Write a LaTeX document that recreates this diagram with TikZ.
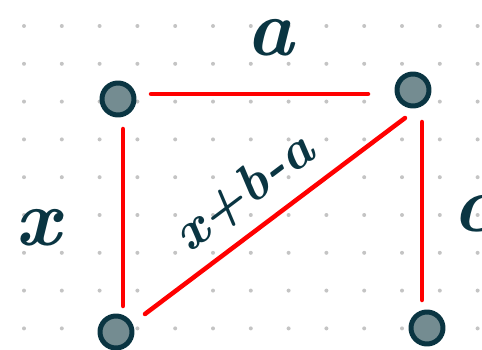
\documentclass[tikz,border=0pt]{standalone}
\definecolor{ink}{HTML}{0A3542}
\definecolor{pin}{HTML}{748C91}
\definecolor{dotgray}{HTML}{C4C4C4}
\tikzset{
  vertex/.style={circle, draw=ink, fill=pin, line width=5pt, minimum size=32pt, inner sep=0pt},
  edge/.style={red, line width=4.5pt},
  hand/.style={text=ink, inner sep=0pt, font=\bfseries\itshape\fontsize{80}{80}\selectfont}
}
\begin{document}
\begin{tikzpicture}[x=1pt, y=-1pt, line cap=round, line join=round]
	% Bounding box definition
	\useasboundingbox (0,0) rectangle (482,350);
	
	% Dotted grid paper
	\foreach \i in {0,...,12} {
		\foreach \j in {0,...,8} {
			\fill[dotgray] (24+37.8*\i, 26+37.8*\j) circle (2pt);
		}
	}
	
	% Corner points
	\node[vertex] (tl) at (118,99) {};
	\node[vertex] (tr) at (413,90) {};
	\node[vertex] (bl) at (116,332) {};
	\node[vertex] (br) at (427,328) {};
	
	% Red sides and diagonal (hand drawn, so ends sit a bit off the points)
	\draw[edge] ([shift={(33,-5)}]tl.center) -- ([shift={(-45,4)}]tr.center);
	\draw[edge] ([shift={(5,30)}]tl.center) -- ([shift={(7,-26)}]bl.center);
	\draw[edge] ([shift={(9,32)}]tr.center) -- ([shift={(-5,-28)}]br.center);
	\draw[edge] ([shift={(29,-18)}]bl.center) -- ([shift={(-8,28)}]tr.center);
	
	% Side lengths
	\node[hand] (la) at (270,38) {a};
	\node[hand] (lx) at (38,228) {x};
	\node[hand] (lc) at (474,214) {c};
	\node[hand, font=\bfseries\itshape\fontsize{54}{54}\selectfont, rotate=37] (ld) at (244,192) {x+b-a};
\end{tikzpicture}
\end{document}
